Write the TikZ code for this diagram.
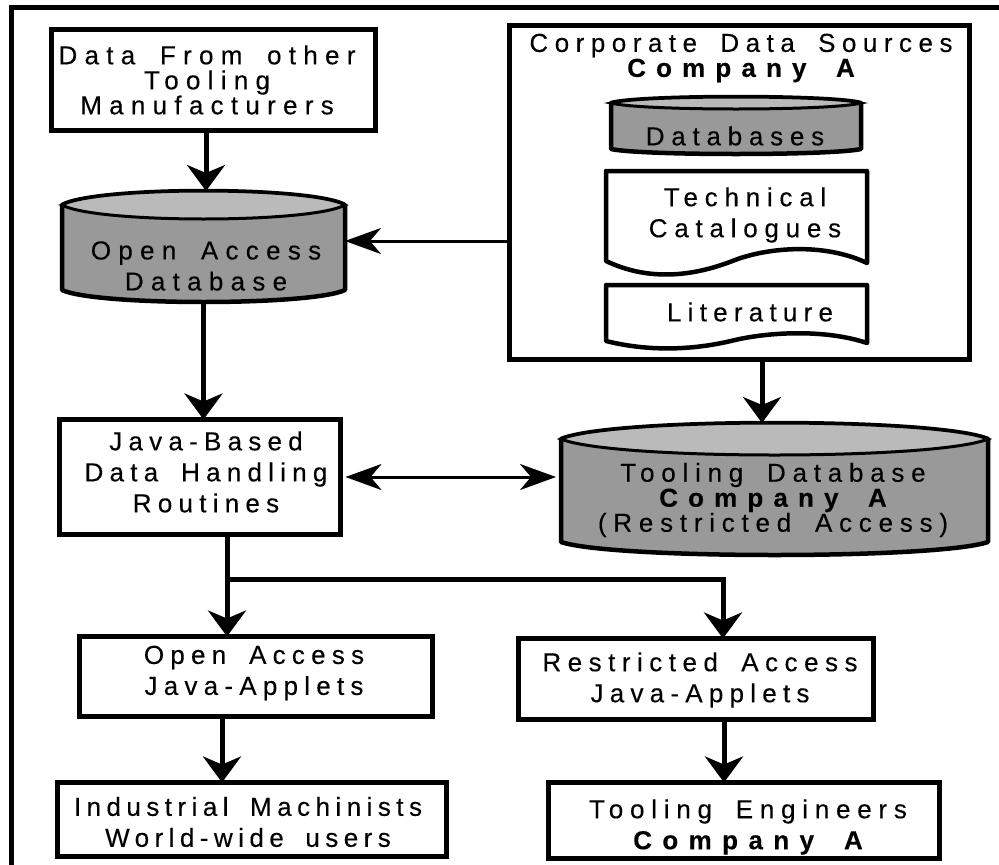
\documentclass[tikz,border=0pt]{standalone}
\usepackage{fontspec}
\setmainfont[WordSpace=1.7]{Liberation Sans}
\usetikzlibrary{arrows.meta,calc}
\definecolor{dbside}{gray}{0.60}
\definecolor{dbtop}{gray}{0.73}
\newcommand\ls[1]{\addfontfeature{LetterSpace=#1,FakeBold=0.25}}
\tikzset{
  box/.style={draw=black,line width=5pt,fill=white,inner sep=0pt,outer sep=0pt,anchor=north west},
  lab/.style={inner sep=0pt,align=center,font=\fontsize{26}{25}\selectfont},
  lab32/.style={inner sep=0pt,align=center,font=\fontsize{26}{31}\selectfont},
  link/.style={line width=5pt,-{Stealth[length=26pt,width=38pt,inset=8pt]}},
  thin link/.style={line width=3pt,-{Stealth[length=36pt,width=26pt,inset=11pt]}},
  both link/.style={line width=3pt,{Stealth[length=36pt,width=26pt,inset=11pt]}-{Stealth[length=36pt,width=26pt,inset=11pt]},shorten >=5pt,shorten <=5pt},
}
% #1 name, #2 x1, #3 y1, #4 x2, #5 y2 (top of ellipse to lowest point), #6 ellipse half-height, #7 lower curve height
\newcommand\dbcyl[7]{%
  \node[inner sep=0pt,outer sep=0pt,minimum width=#4pt-#2pt,minimum height=#5pt-#3pt] (#1) at ({(#2+#4)/2},{(#3+#5)/2}) {};
  \draw[line width=4.5pt,fill=dbside,line join=round]
    (#2,#3+#6) -- (#2,#5-#7) .. controls ({#2+0.12*(#4-#2)},{#5+#7/3}) and ({#4-0.12*(#4-#2)},{#5+#7/3}) .. (#4,#5-#7) -- (#4,#3+#6)
    .. controls ({#4-0.12*(#4-#2)},{#3-#6/3}) and ({#2+0.12*(#4-#2)},{#3-#6/3}) .. (#2,#3+#6) -- cycle;
  \draw[line width=3pt,fill=dbtop]
    (#2,#3+#6) .. controls ({#2+0.12*(#4-#2)},{#3-#6/3}) and ({#4-0.12*(#4-#2)},{#3-#6/3}) .. (#4,#3+#6)
    .. controls ({#4-0.12*(#4-#2)},{#3+#6*7/3}) and ({#2+0.12*(#4-#2)},{#3+#6*7/3}) .. (#2,#3+#6) -- cycle;
}
\begin{document}
\begin{tikzpicture}[x=1pt,y=-1pt]
\useasboundingbox (0,0) rectangle (999,865);
\fill[white] (0,0) rectangle (999,865);
% outer frame
\draw[line width=5pt] (11,865) -- (11,7) -- (999,7);
% boxes
\node[box,minimum width=324pt,minimum height=101pt] (src) at (51.5,29.5) {};
\node[lab] (srct) at (207,80) {\ls{28}Data From other\\\ls{28}Tooling\\\ls{28}Manufacturers};
\node[box,minimum width=460pt,minimum height=334pt] (corp) at (509.5,25.5) {};
\node[lab] (corpt) at (741,58) {\ls{25}Corporate Data Sources\\\ls{39}\bfseries Company A};
\dbcyl{dbs}{611}{97}{861}{154}{6}{5}
\node[lab] (dbst) at (735,136) {\ls{26}Databases};
\draw[line width=4.5pt,fill=white,line join=round]
  (606,171) -- (867,171) -- (867,263) .. controls (825,243) and (770,247) .. (735,260)
  .. controls (695,276) and (650,282) .. (606,261) -- cycle;
\node[lab32] (tech) at (745,215) {\ls{26}Technical\\\ls{26}Catalogues};
\draw[line width=4.5pt,fill=white,line join=round]
  (606,285) -- (867,285) -- (867,343) .. controls (825,329) and (770,332) .. (735,340)
  .. controls (695,350) and (650,352) .. (606,341) -- cycle;
\node[lab] (lit) at (750,312) {\ls{24}Literature};
\dbcyl{oad}{62}{191}{345}{302}{14}{12}
\node[lab32] (oadt) at (206,266) {\ls{28}Open Access\\\ls{28}Database};
\node[box,minimum width=281pt,minimum height=115pt] (java) at (59.5,419.5) {};
\node[lab32] (javat) at (206,472) {\ls{24}Java-Based\\\ls{24}Data Handling\\\ls{24}Routines};
\dbcyl{tdb}{561}{423}{988}{555}{16}{13}
\node[lab] (tdbt) at (773,500) {\ls{26}Tooling Database\\\ls{39}\bfseries Company A\\\ls{26}(Restricted Access)};
\node[box,minimum width=353pt,minimum height=80pt] (oaj) at (79.5,636.5) {};
\node[lab32] (oajt) at (254,673) {\ls{24}Open Access\\\ls{24}Java-Applets};
\node[box,minimum width=355pt,minimum height=81pt] (raj) at (518.5,638.5) {};
\node[lab32] (rajt) at (700,680) {\ls{25}Restricted Access\\\ls{24}Java-Applets};
\node[box,minimum width=389pt,minimum height=74pt] (ind) at (57.5,782.5) {};
\node[lab32] (indt) at (248,822) {\ls{21}Industrial Machinists\\\ls{21}World-wide users};
\node[box,minimum width=391pt,minimum height=76pt] (eng) at (548.5,782.5) {};
\node[lab32] (engt) at (748,827) {\ls{26}Tooling Engineers\\\ls{40}\bfseries Company A};
% connectors
\coordinate (xa) at (206,0);
\coordinate (xb) at (203.5,0);
\coordinate (xc) at (762,0);
\coordinate (xd) at (227,0);
\coordinate (xe) at (723,0);
\coordinate (xf) at (222,0);
\coordinate (xg) at (724,0);
\coordinate (ya) at (0,241);
\coordinate (yb) at (0,477);
\coordinate (yc) at (0,579);
\draw[link] (src.south -| xa) -- (oad.north -| xa);
\draw[thin link] (corp.west |- ya) -- (oad.east |- ya);
\draw[link] (oad.south -| xb) -- (java.north -| xb);
\draw[link] (corp.south -| xc) -- (tdb.north -| xc);
\draw[both link] (java.east |- yb) -- (tdb.west |- yb);
\draw[link] (java.south -| xd) -- (oaj.north -| xd);
\draw[link] (xd |- yc) -- (xe |- yc) -- (raj.north -| xe);
\draw[link] (oaj.south -| xf) -- (ind.north -| xf);
\draw[link] (raj.south -| xg) -- (eng.north -| xg);
\end{tikzpicture}
\end{document}
